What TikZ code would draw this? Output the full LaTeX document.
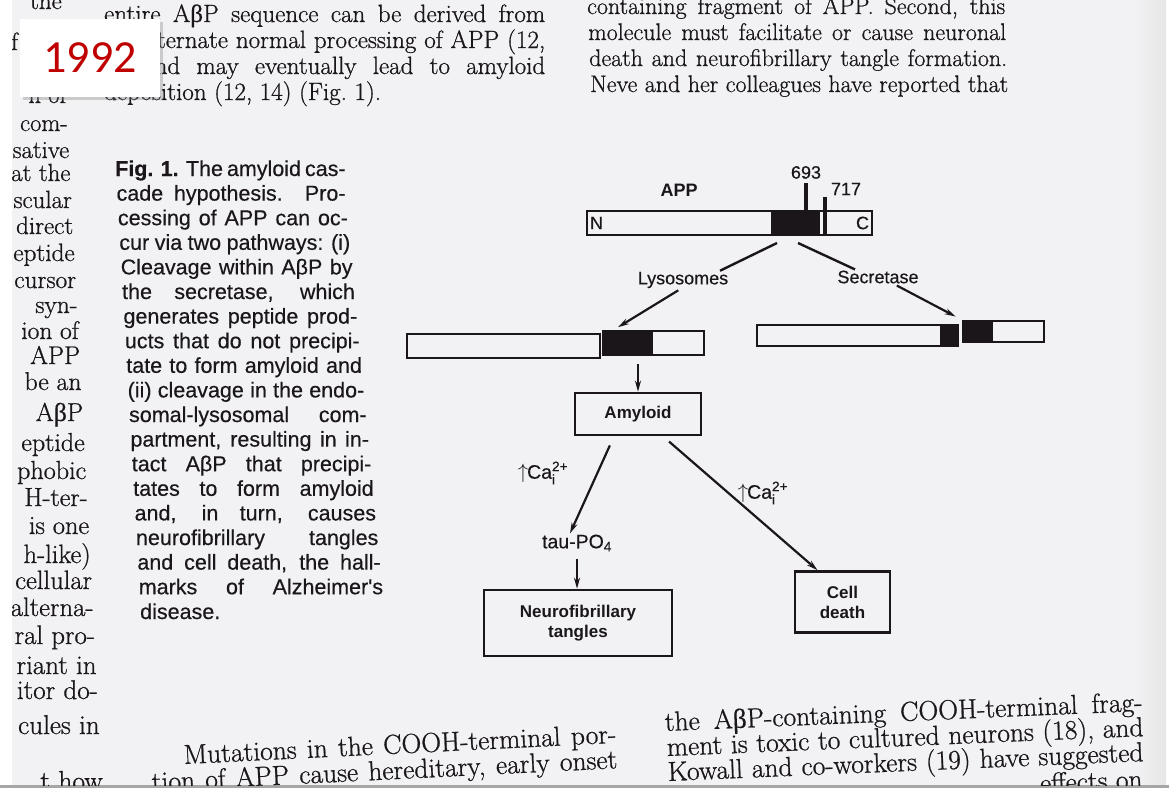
\documentclass[tikz,border=0pt]{standalone}
\usepackage{fontspec}
\usepackage{amsmath}
\setmainfont[FakeBold=0.8]{Latin Modern Roman}
\setsansfont{Liberation Sans}
\newfontfamily\capfont[FakeBold=0.4]{Liberation Sans}
\newfontfamily\grk[FakeBold=0.4]{Liberation Serif}
\newfontfamily\tagfont{Carlito}
\usetikzlibrary{arrows.meta, positioning, shadows}

\definecolor{paper}{RGB}{242,242,244}
\definecolor{ink}{RGB}{26,22,26}
\definecolor{tagred}{RGB}{192,0,0}

\newcommand{\Ab}{A{\grk β}P}
\newcommand{\caion}{$\uparrow\mkern-1mu$Ca$^{\text{2+}}_{\text{i}}$}

\begin{document}
\begin{tikzpicture}[
    x=1pt, y=-1pt,
    txt/.style = {anchor=base west, inner sep=0pt, text=ink},
    bodytop/.style = {txt, font=\fontsize{25}{25}\selectfont},
    bodyright/.style = {txt, font=\fontsize{24}{24}\selectfont},
    bodybot/.style = {txt, font=\fontsize{27.5}{27.5}\selectfont},
    capline/.style = {txt, font=\capfont\fontsize{21.5}{21.5}\selectfont},
    bar/.style = {draw=ink, line width=2.4pt, inner sep=0pt, minimum height=24pt},
    lbl/.style = {inner sep=1pt, text=ink, font=\capfont\fontsize{18}{18}\selectfont},
    box/.style = {draw=ink, line width=2.6pt, inner sep=2pt, align=center, text=ink,
        font=\sffamily\bfseries\fontsize{17}{20}\selectfont},
    flow/.style = {draw=ink, line width=2.2pt, -{Stealth[length=11pt, width=6pt]}},
    link/.style = {draw=ink, line width=2.4pt},
    marker/.style = {draw=ink, line width=3.2pt},
    tagbox/.style = {fill=white, minimum width=140pt, minimum height=78pt, inner sep=0pt,
        text=tagred, font=\tagfont\fontsize{46}{46}\selectfont,
        drop shadow={opacity=0.35, shadow xshift=2.5pt, shadow yshift=-2.5pt}}
]
\useasboundingbox (0,0) rectangle (1169,788);
\fill[white] (0,0) rectangle (1169,788);
\fill[paper] (12,0) rectangle (1166,785);
\shade[left color=paper, right color=black!10] (1135,0) rectangle (1166,785);
\fill[black!35] (0,785) rectangle (1169,788);

\begin{scope}
\clip (12,0) rectangle (1166,785);

% outer column, cut by the page edge
\node[bodytop, anchor=base east] (lc0) at (62,9) {the};
\node[bodytop] (lc1) at (11,50) {f};
\foreach \yy/\word in {103/n of, 131/com-, 158/sative, 181/at the, 208/scular, 234/direct,
    261/eptide, 288/cursor, 313/syn-, 339/ion of, 364/APP, 390/be an, 421/\Ab,
    451/eptide, 479/phobic, 506/H-ter-, 534/is one, 563/h-like), 589/cellular,
    616/alterna-, 644/ral pro-, 674/riant in, 699/itor do-, 734/cules in, 790/t how}
{
    \pgfmathsetmacro\xr{68+0.053*(\yy-131)}
    \pgfmathsetmacro\fs{24+3.5*\yy/790}
    \node[txt, anchor=base east, font=\fontsize{\fs}{\fs}\selectfont] at (\xr,\yy) {\word};
}

% middle column, top
\node[bodytop] (mid1) at (104,22) {\makebox[441pt][s]{entire \Ab\ sequence can be derived from}};
\node[bodytop] (mid2) at (139,48) {\makebox[406pt][s]{alternate normal processing of APP (12,}};
\node[bodytop] (mid3) at (143,74) {\makebox[402pt][s]{and may eventually lead to amyloid}};
\node[bodytop] (mid4) at (104,100) {deposition (12, 14) (Fig.~1).};

% right column, top
\node[bodyright] (rc1) at (587,14) {\makebox[418pt][s]{containing fragment of APP. Second, this}};
\node[bodyright] (rc2) at (588,40) {\makebox[418pt][s]{molecule must facilitate or cause neuronal}};
\node[bodyright] (rc3) at (589,66) {\makebox[418pt][s]{death and neurofibrillary tangle formation.}};
\node[bodyright] (rc4) at (590,92) {\makebox[418pt][s]{Neve and her colleagues have reported that}};

% caption
\foreach \word [count=\i] in {{{\bfseries Fig. 1.} The amyloid cas-}, cade hypothesis. Pro-,
    cessing of APP can oc-, cur via two pathways: (i), Cleavage within AβP by,
    {the secretase, which}, generates peptide prod-, ucts that do not precipi-,
    tate to form amyloid and, (ii) cleavage in the endo-, somal-lysosomal com-,
    {partment, resulting in in-}, tact AβP that precipi-, tates to form amyloid,
    {and, in turn, causes}, neurofibrillary tangles, {and cell death, the hall-},
    marks of Alzheimer's}
{
    \pgfmathsetmacro\yb{176+24.6*(\i-1)}
    \pgfmathsetmacro\xl{115+0.0564*(\yb-176)}
    \pgfmathsetmacro\wl{228+0.039*(\yb-176)}
    \node[capline] at (\xl,\yb) {\makebox[\wl pt][s]{\word}};
}
\node[capline] (capend) at (140,619) {disease.};

% bottom lines
\node[bodybot, rotate=2.8] (mut1) at (184,764) {\makebox[433pt][s]{Mutations in the COOH-terminal por-}};
\node[bodybot, rotate=2.8] (mut2) at (152,791) {\makebox[466pt][s]{tion of APP cause hereditary, early onset}};
\node[bodybot, rotate=2.4] (frag1) at (665,731) {\makebox[478pt][s]{the \Ab-containing COOH-terminal frag-}};
\node[bodybot, rotate=2.4] (frag2) at (667,756) {\makebox[477pt][s]{ment is toxic to cultured neurons (18), and}};
\node[bodybot, rotate=2.4] (frag3) at (668,781) {\makebox[476pt][s]{Kowall and co-workers (19) have suggested}};
\node[bodybot, rotate=2.4, anchor=base east] (frag4) at (1143,788) {effects on};
\end{scope}

% APP
\fill[ink] (771,211) rectangle (820,235);
\node[bar, minimum width=285pt] (app) at (729.5,223) {};
\node[lbl, anchor=west, inner sep=4pt] (nterm) at (app.west) {N};
\node[lbl, anchor=east, inner sep=4pt] (cterm) at (app.east) {C};
\node[lbl, font=\sffamily\bfseries\fontsize{18}{18}\selectfont] (applbl) at (679,190) {APP};
\coordinate (m693) at (806,183);
\coordinate (m717) at (825,197);
\draw[marker] (m693) -- (m693 |- app.north);
\draw[marker] (m717) -- (m717 |- app.south);
\node[lbl, above=3pt of m693] (l693) {693};
\node[lbl] (l717) at (846,189) {717};

% two pathways
\node[lbl] (lyso) at (683,280) {Lysosomes};
\node[lbl] (secr) at (878,277) {Secretase};
\coordinate (cutL) at (777,243);
\coordinate (cutR) at (798,243);
\draw[link] (cutL) -- ([xshift=37pt]lyso.north);
\draw[link] (cutR) -- ([xshift=-23pt]secr.north);

% fragments
\fill[ink] (603,331) rectangle (653,355);
\node[bar, minimum width=193pt] (lbar) at (503.5,346) {};
\node[bar, minimum width=101pt] (lfrag) at (653.5,343) {};
\fill[ink] (940,325) rectangle (958,346);
\fill[ink] (963,321) rectangle (993,342);
\node[bar, minimum width=201pt, minimum height=21pt] (rbar) at (857.5,335.5) {};
\node[bar, minimum width=81pt, minimum height=21pt] (rfrag) at (1003.5,331.5) {};
\draw[flow, shorten <=2pt, shorten >=5pt] ([xshift=-3pt]lyso.south) -- ([xshift=12pt]lfrag.north west);
\draw[flow, shorten <=2pt, shorten >=7pt] ([xshift=17pt]secr.south) -- (rfrag.north west);

% cascade
\node[box, minimum width=126pt, minimum height=42pt] (amyloid) at (638,414) {Amyloid};
\draw[flow, shorten <=8pt] (amyloid.north |- lfrag.south) -- (amyloid.north);
\node[lbl, font=\capfont\fontsize{19.5}{19.5}\selectfont] (taupo) at (577,543) {tau-PO$_{\text{4}}$};
\node[box, minimum width=188pt, minimum height=66pt] (neuro) at (578,623) {Neurofibrillary\\tangles};
\node[box, minimum width=95pt, minimum height=61pt] (cell) at (842.5,602) {Cell\\death};
\draw[flow, shorten <=10pt] ([xshift=-24pt]amyloid.south) -- ([xshift=-7pt]taupo.north);
\draw[flow, shorten <=6pt] (taupo.south) -- (taupo.south |- neuro.north);
\draw[flow, shorten <=8pt] ([xshift=25pt]amyloid.south) -- ([xshift=-25pt]cell.north);
\node[lbl, font=\capfont\fontsize{19.5}{19.5}\selectfont] (caleft) at (543,473) {\caion};
\node[lbl, font=\capfont\fontsize{19.5}{19.5}\selectfont] (caright) at (763,493) {\caion};

% year tag
\node[tagbox] (year) at (90,58) {1992};
\end{tikzpicture}
\end{document}
